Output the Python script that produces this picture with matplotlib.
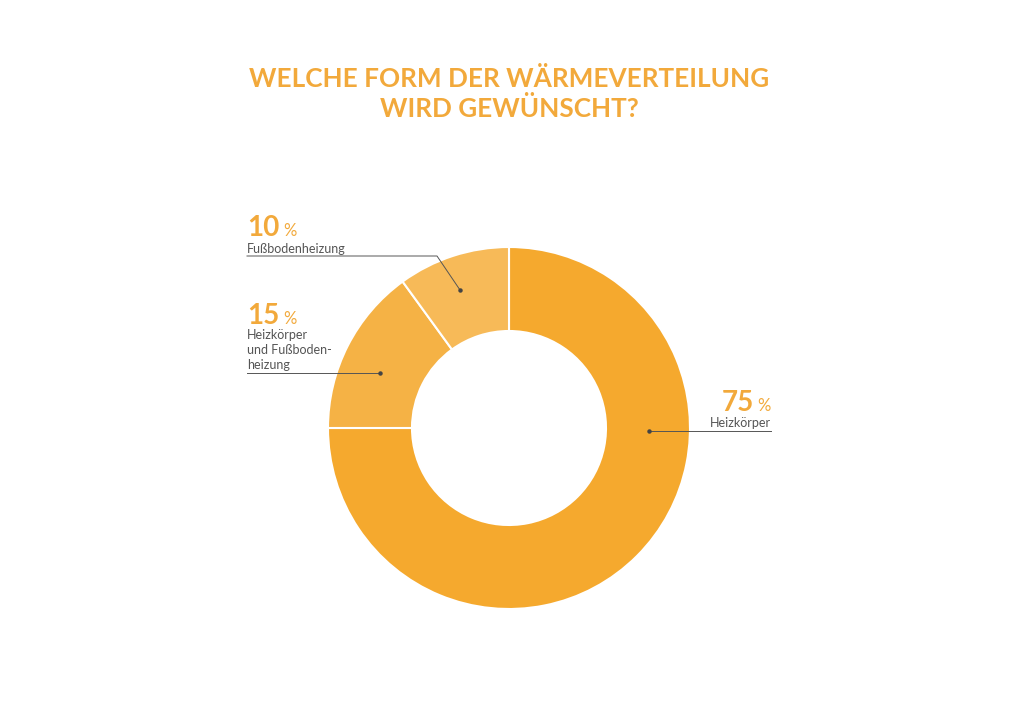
import numpy as np
import matplotlib.pyplot as plt

plt.rcParams['font.family'] = ['Lato', 'DejaVu Sans']

# data
labels = ['Heizkörper', 'Heizkörper\nund Fußboden-\nheizung', 'Fußbodenheizung']
values = [75, 15, 10]
colors = ['#F5A92E', '#F5B245', '#F7BA58']
title = 'WELCHE FORM DER WÄRMEVERTEILUNG\nWIRD GEWÜNSCHT?'

orange = '#F2A93B'
grey = '#555555'

fig = plt.figure(figsize=(10.18, 7.2), dpi=100)
ax = fig.add_axes([0, 0, 1, 1])

# donut (pixel coords, y measured from bottom)
cx, cy, r = 509, 292, 181
ax.pie(values, colors=colors, startangle=90, counterclock=False,
       center=(cx, cy), radius=r, frame=True,
       wedgeprops=dict(width=84, edgecolor='white', linewidth=1.5))
ax.set_xlim(0, 1018)
ax.set_ylim(0, 720)
ax.set_aspect('equal')
ax.axis('off')

ax.text(509, 720 - 94, title, ha='center', va='center', fontsize=18.8,
        fontweight='bold', color=orange, linespacing=1.2)


def label(xn, yn, pct, align='left'):
    if align == 'left':
        ax.text(xn, 720 - yn, str(pct), fontsize=20, fontweight='bold',
                color=orange, ha='left', va='baseline')
        ax.text(xn + 36, 720 - yn, '%', fontsize=12, color=orange,
                ha='left', va='baseline')
    else:
        ax.text(xn - 17, 720 - yn, str(pct), fontsize=20, fontweight='bold',
                color=orange, ha='right', va='baseline')
        ax.text(xn, 720 - yn, '%', fontsize=12, color=orange,
                ha='right', va='baseline')


# 10 %
label(247, 236, values[2])
ax.text(247, 720 - 253, labels[2], fontsize=9, color=grey, ha='left', va='baseline')
ax.plot([247, 437, 460], [720 - 256, 720 - 256, 720 - 290], color=grey, lw=0.7)
ax.plot(460, 720 - 290, 'o', ms=2.2, color='#444444')

# 15 %
label(247, 324, values[1])
ax.text(247, 720 - 339, labels[1].split('\n')[0], fontsize=9, color=grey,
        ha='left', va='baseline')
ax.text(247, 720 - 354, labels[1].split('\n')[1], fontsize=9, color=grey,
        ha='left', va='baseline')
ax.text(247, 720 - 369, labels[1].split('\n')[2], fontsize=9, color=grey,
        ha='left', va='baseline')
ax.plot([247, 380], [720 - 373, 720 - 373], color=grey, lw=0.7)
ax.plot(380, 720 - 373, 'o', ms=2.2, color='#444444')

# 75 %
label(771, 411, values[0], align='right')
ax.text(771, 720 - 427, labels[0], fontsize=9, color=grey, ha='right', va='baseline')
ax.plot([649, 771], [720 - 431, 720 - 431], color=grey, lw=0.7)
ax.plot(649, 720 - 431, 'o', ms=2.2, color='#444444')

fig.savefig('out.png', dpi=100, facecolor='white')
